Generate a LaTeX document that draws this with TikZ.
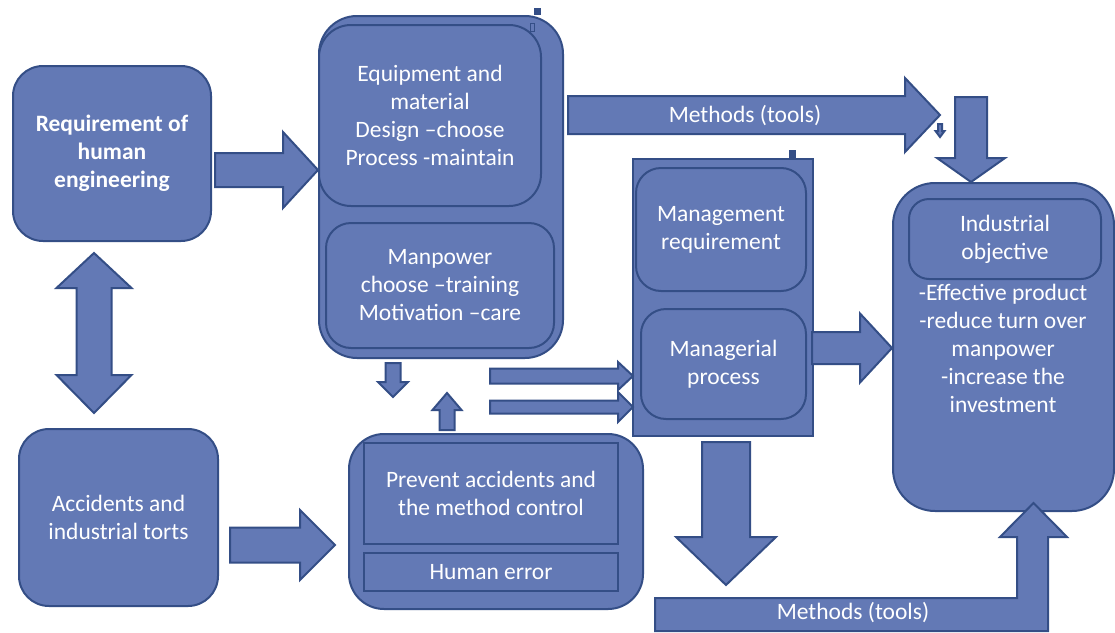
\documentclass[tikz,border=0pt]{standalone}
\usepackage{fontspec}
\setmainfont{Carlito}
\definecolor{bfill}{RGB}{99,121,181}
\definecolor{bline}{RGB}{52,78,134}
\tikzset{
  blk/.style={fill=bfill, draw=bline, line width=2pt, line join=miter},
  rbox/.style={blk, rounded corners=#1, inner sep=0pt, anchor=north west,
     text=white, align=center, font=\fontsize{23.5}{28}\selectfont},
  sbox/.style={blk, inner sep=0pt, anchor=north west,
     text=white, align=center, font=\fontsize{23.5}{28}\selectfont},
  lbl/.style={text=white, align=center, inner sep=0pt, font=\fontsize{23.5}{28}\selectfont},
  handle/.style={fill=bline, draw=bline, line width=0.8pt},
}
% right/left block arrow: xstart, xhead, xtip, ycenter, shaft half, head half
\newcommand{\harr}[6]{\path[blk] (#1,#4-#5) -- (#2,#4-#5) -- (#2,#4-#6) -- (#3,#4) -- (#2,#4+#6) -- (#2,#4+#5) -- (#1,#4+#5) -- cycle;}
% down/up block arrow: ystart, yhead, ytip, xcenter, shaft half, head half
\newcommand{\varr}[6]{\path[blk] (#4-#5,#1) -- (#4+#5,#1) -- (#4+#5,#2) -- (#4+#6,#2) -- (#4,#3) -- (#4-#6,#2) -- (#4-#5,#2) -- cycle;}
\begin{document}
\begin{tikzpicture}[x=1pt,y=-1pt]
\useasboundingbox[fill=white] (0,0) rectangle (1115,632);

% left boxes
\node[rbox=30pt, minimum width=198pt, minimum height=175pt] (A) at (12,65)
  {\bfseries Requirement of\\\bfseries human\\\bfseries engineering};
\node[rbox=30pt, minimum width=199pt, minimum height=177pt] (B) at (18,428)
  {Accidents and\\industrial torts};

% equipment / manpower group
\node[rbox=38pt, minimum width=244pt, minimum height=342pt] (C) at (318,15) {};
\node[rbox=32pt, minimum width=222pt, minimum height=181pt] (C1) at (318,24)
  {Equipment and\\material\\Design –choose\\Process -maintain};
\node[rbox=25pt, minimum width=228pt, minimum height=125pt] (C2) at (325,222)
  {Manpower\\choose –training\\Motivation –care};
\path[handle] (534,8) rectangle (540,14);
\path[draw=bline, line width=0.8pt] (530,23) rectangle (534,31);

% prevent accidents group
\node[rbox=35pt, minimum width=294pt, minimum height=175pt] (D) at (348,433) {};
\node[sbox, minimum width=254pt, minimum height=101pt] (D1) at (363,442)
  {Prevent accidents and\\the method control};
\node[sbox, minimum width=254pt, minimum height=38pt] (D2) at (363,552)
  {Human error};

% management group
\node[sbox, minimum width=180pt, minimum height=277pt] (E) at (632,158) {};
\node[rbox=25pt, minimum width=170pt, minimum height=123pt] (E1) at (635,167)
  {Management\\requirement};
\node[rbox=25pt, minimum width=165pt, minimum height=110pt] (E2) at (640,308)
  {Managerial\\process};
\path[handle] (789,150) rectangle (795,157);

% industrial objective
\node[rbox=42pt, minimum width=221pt, minimum height=328pt] (F) at (892,182) {};
\node[rbox=20pt, minimum width=192pt, minimum height=80pt] (F1) at (908,198)
  {Industrial\\objective};
\node[lbl] (F2) at (1003,348.5)
  {-Effective product\\-reduce turn over\\manpower\\-increase the\\investment};

% arrows
\harr{215}{283}{318}{170}{17}{38}          % A -> C
\path[blk] (94,253) -- (131.5,288) -- (111.5,288) -- (111.5,375) -- (131.5,375)
  -- (94,413) -- (56.5,375) -- (76.5,375) -- (76.5,288) -- (56.5,288) -- cycle; % A <-> B
\harr{568}{905}{940}{115}{19}{37}          % top methods
\node[lbl] (M1) at (745,116) {Methods (tools)};
\varr{124}{131}{137}{940}{2}{4.5}          % tiny arrow
\varr{97}{158}{182}{971}{16}{34}           % into F
\varr{363}{382}{397}{393}{7.5}{15}         % C -> down
\varr{430}{410}{393}{447}{7.5}{14.5}       % D -> up
\harr{490}{618}{633}{376}{7.5}{14}         % to E
\harr{490}{618}{633}{407}{6.5}{15}         % to E
\harr{230}{300}{335}{545}{17.5}{35}        % B -> D
\harr{812}{860}{892}{348}{16}{34.5}        % E -> F
\varr{442}{537}{585}{726}{24}{50}          % E down
\path[blk] (655,598) -- (1017,598) -- (1017,537) -- (1000,537) -- (1033.5,503)
  -- (1067,537) -- (1048,537) -- (1048,631) -- (655,631) -- cycle; % bottom methods
\node[lbl] (M2) at (853,613) {Methods (tools)};
\end{tikzpicture}
\end{document}
